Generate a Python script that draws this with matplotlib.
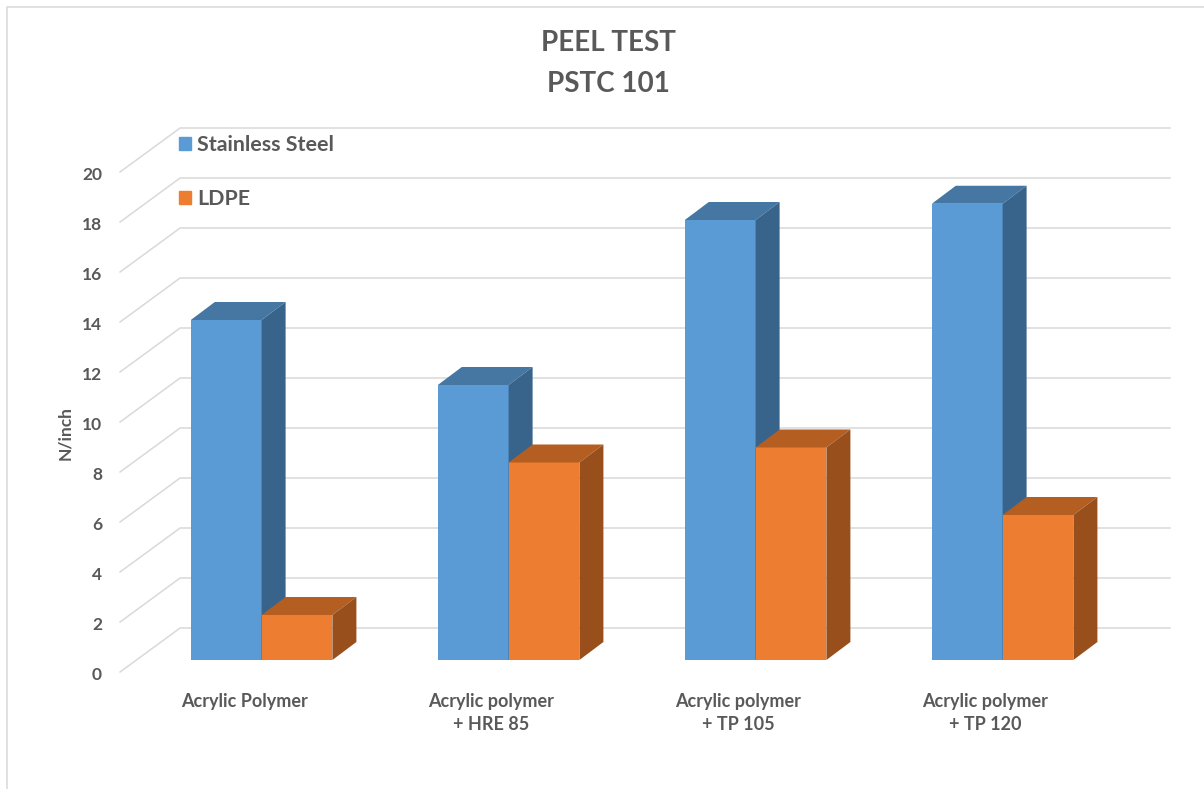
import matplotlib
matplotlib.use('Agg')
import matplotlib.pyplot as plt
from matplotlib.lines import Line2D
from matplotlib.patches import Patch, Polygon

plt.rcParams['font.family'] = ['Lato', 'DejaVu Sans']

# values
categories = ['Acrylic Polymer', 'Acrylic polymer\n+ HRE 85', 'Acrylic polymer\n+ TP 105', 'Acrylic polymer\n+ TP 120']
stainless_steel = [13.6, 11.0, 17.6, 18.25]
ldpe = [1.8, 7.9, 8.5, 5.8]
value_ticks = [0, 2, 4, 6, 8, 10, 12, 14, 16, 18, 20]

TEXT = '#595959'
GRID = '#d9d9d9'
W, H = 1204, 789

fig = plt.figure(figsize=(W / 100, H / 100), dpi=100)
# axes: one category is 247 px, one value unit is 25 px, on the front plane of the bars
ax = fig.add_axes([138.1 / W, (H - 660) / H, 988 / W, 500 / H])
ax.set_xlim(-0.5, 3.5)
ax.set_ylim(0, 20)
ax.axis('off')

bar_w = 70.8 / 247
depth_x = 24 / 247
depth_y = 18 / 25


def draw_bar(x, value, front, top, side):
    ax.bar(x, value, bar_w, align='edge', color=front, zorder=3, clip_on=False, antialiased=False)
    ax.add_patch(Polygon([(x, value), (x + bar_w, value),
                          (x + bar_w + depth_x, value + depth_y), (x + depth_x, value + depth_y)],
                         facecolor=top, edgecolor='none', zorder=3, clip_on=False))
    ax.add_patch(Polygon([(x + bar_w, 0), (x + bar_w + depth_x, depth_y),
                          (x + bar_w + depth_x, value + depth_y), (x + bar_w, value)],
                         facecolor=side, edgecolor='none', zorder=3, clip_on=False))


# back wall lines and the diagonal floor lines
for v in value_ticks:
    ax.add_line(Line2D([-0.573, -0.33, 3.678], [v - 0.48, v + 1.28, v + 1.28],
                       color=GRID, lw=1.1, zorder=1, clip_on=False))
    ax.text(-0.573 - 18 / 247, v - 0.6, str(v), ha='right', va='center',
            fontsize=12.5, fontweight='bold', color=TEXT)

for i in range(len(categories)):
    draw_bar(i - bar_w, stainless_steel[i], '#5b9bd5', '#4677a3', '#38638b')
for i in range(len(categories)):
    draw_bar(i, ldpe[i], '#ed7d31', '#b55e22', '#984f1b')

for i, name in enumerate(categories):
    ax.text(i - 0.07, -1.3, name, ha='center', va='top', fontsize=13,
            fontweight='bold', color=TEXT, linespacing=1.5)

fig.text(65 / W, 1 - 433 / H, 'N/inch', rotation=90, ha='center', va='center',
         fontsize=12.5, fontweight='bold', color=TEXT)
fig.text(608.5 / W, 1 - 43 / H, 'PEEL TEST', ha='center', va='center',
         fontsize=20, fontweight='bold', color=TEXT)
fig.text(608.5 / W, 1 - 84 / H, 'PSTC 101', ha='center', va='center',
         fontsize=20, fontweight='bold', color=TEXT)

handles = [Patch(color='#5b9bd5', label='Stainless Steel'), Patch(color='#ed7d31', label='LDPE')]
fig.legend(handles=handles, loc='upper left', bbox_to_anchor=(179 / W, 1 - 135 / H),
           frameon=False, borderaxespad=0, borderpad=0, handlelength=0.56, handleheight=0.56,
           handletextpad=0.28, labelspacing=1.59, prop={'size': 15.4, 'weight': 'bold'},
           labelcolor=TEXT)

# chart border, only top and left are in the crop
fig.add_artist(Line2D([6.5 / W, 6.5 / W, 1], [0, 1 - 6.5 / H, 1 - 6.5 / H],
                      color=GRID, lw=1.1, transform=fig.transFigure))

fig.savefig('out.png', dpi=100)
